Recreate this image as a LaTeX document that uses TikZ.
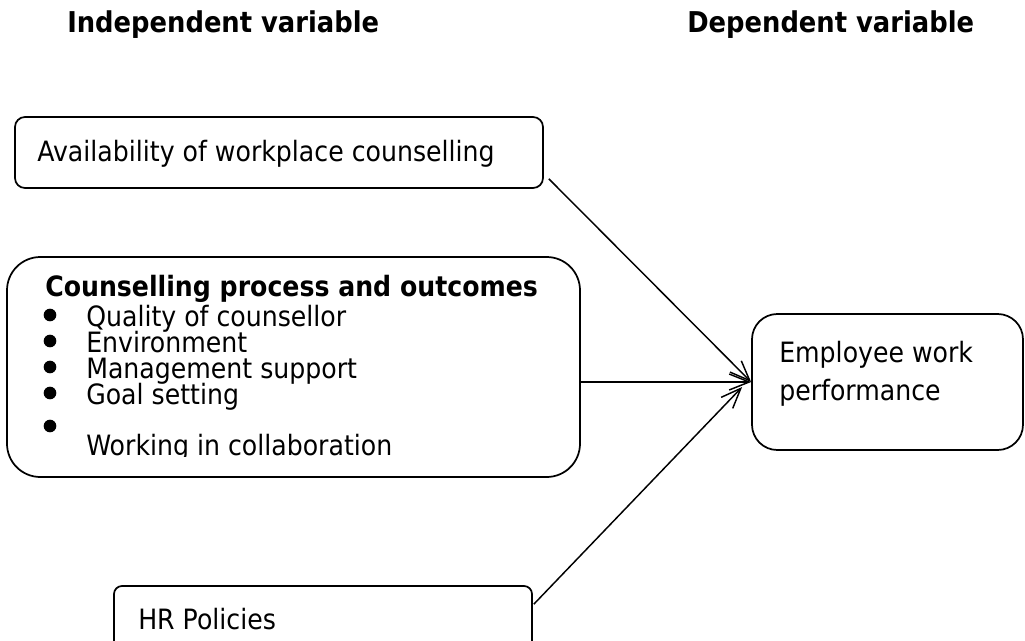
\documentclass[tikz,border=0pt]{standalone}
\usepackage{fontspec}
\setmainfont{DejaVu Sans}[FakeStretch=0.9]
\usetikzlibrary{arrows.meta,fit}
\newcommand\bodysize{\fontsize{21}{25}\selectfont}
\newcommand\headsize{\fontsize{21.5}{26}\selectfont}

\begin{document}
\begin{tikzpicture}[x=0.75pt,y=-0.75pt,
  boxline/.style={draw,line width=1.3pt,inner sep=0pt},
  bullet/.style={circle,fill,inner sep=0pt,minimum size=9.5pt},
  txt/.style={anchor=base west,inner sep=0pt},
  arr/.style={->,>={Straight Barb[length=15pt,width=12pt]},line width=1.1pt}]
\useasboundingbox (0,0) rectangle (1025,640);

% column headings
\node [txt] (indep) at (67,32) {\headsize\textbf{Independent variable}};
\node [txt] (dep) at (687,32) {\headsize\textbf{Dependent variable}};

% to draw the boxes
\node [boxline,rounded corners=7.5pt,fit={(15,117) (543,188)}] (avail) {};
\node [boxline,rounded corners=25pt,fit={(7,257) (580,477)}] (process) {};
\node [boxline,rounded corners=19pt,fit={(752,314) (1023,450)}] (perf) {};
\node [boxline,rounded corners=6pt,fit={(114,586) (532,670)}] (hr) {};

% to write the box texts
\node [txt] (avail-t) at (37,161) {\bodysize Availability of workplace counselling};
\node [txt] (process-t) at (45,296) {\bodysize\textbf{Counselling process and outcomes}};
\begin{scope}
\clip (0,0) rectangle (600,456);
\foreach \y/\b/\entry [count=\i] in {326/315/Quality of counsellor,
    352/341/Environment, 378/367/Management support,
    404/393/Goal setting, 455/426/Working in collaboration}
  {\node [bullet] (dot\i) at (50,\b) {};
   \node [txt] (item\i) at (86,\y) {\bodysize \entry};}
\end{scope}
\node [txt] (perf-t1) at (779,362) {\bodysize Employee work};
\node [txt] (perf-t2) at (779,400) {\bodysize performance};
\node [txt] (hr-t) at (138,629) {\bodysize HR Policies};

% to draw arrows into the dependent variable
\draw [arr] ([shift={(5,-10)}]avail.south east) -- (perf.west);
\draw [arr] (process.east |- perf.west) -- (perf.west);
\draw [arr] ([shift={(1,19)}]hr.north east) -- ([shift={(-9,5)}]perf.west);
\end{tikzpicture}
\end{document}
